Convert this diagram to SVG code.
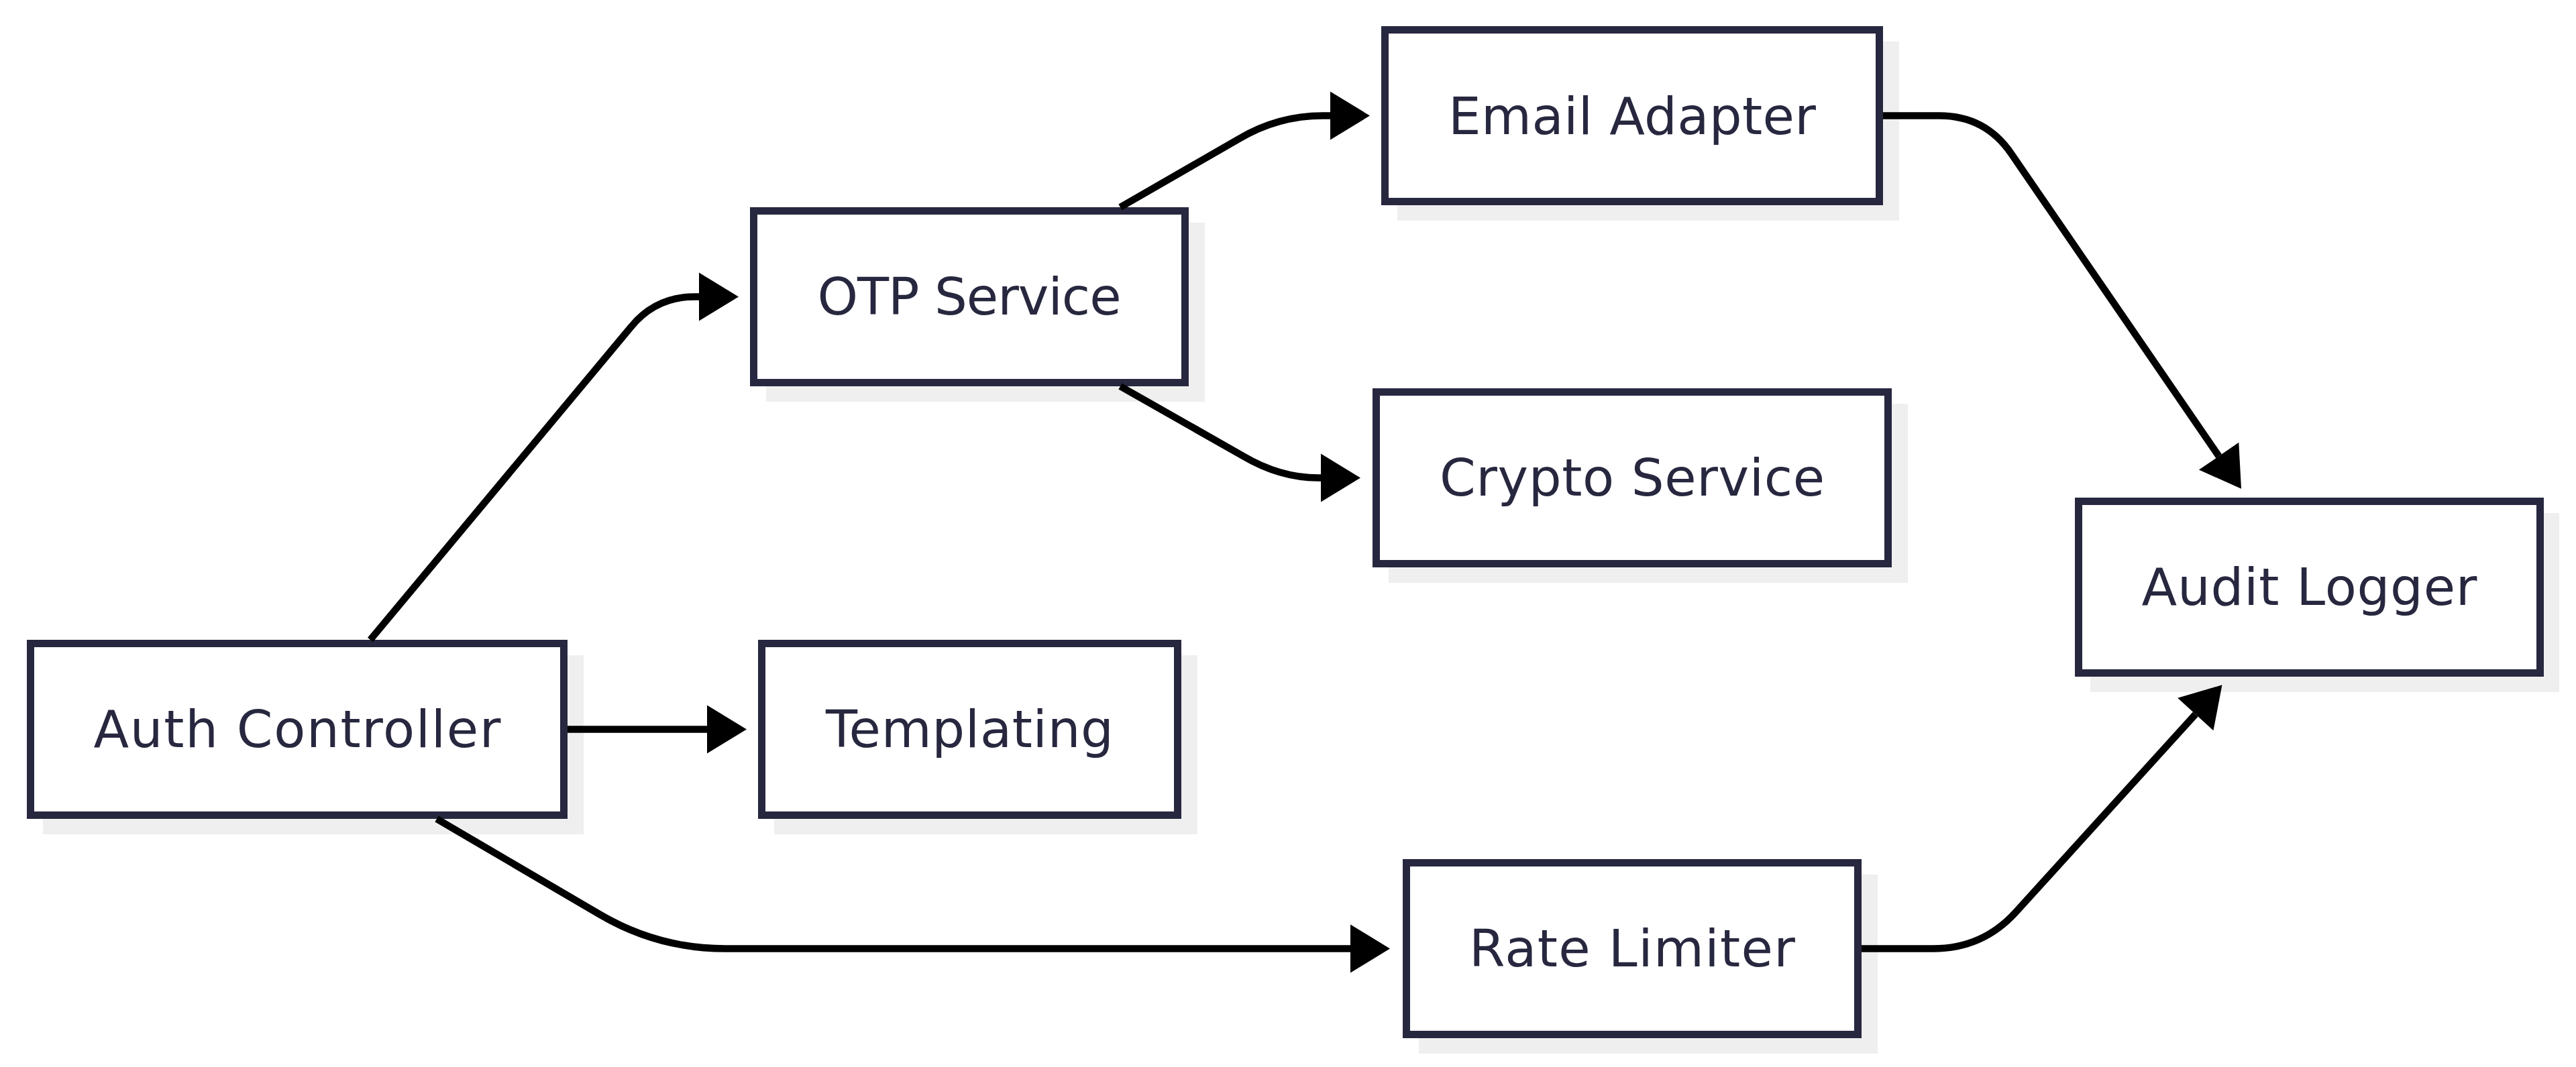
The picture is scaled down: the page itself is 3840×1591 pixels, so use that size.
<svg xmlns="http://www.w3.org/2000/svg" width="3840" height="1591" viewBox="0 0 3840 1591">
<style>
.shadow{fill:#efefef;}
.box{fill:#ffffff;stroke:#27273f;stroke-width:11;}
.label{font-family:"DejaVu Sans","Noto Sans",sans-serif;font-size:77px;fill:#27273f;text-anchor:middle;}
.edge{fill:none;stroke:#000000;stroke-width:10.5;stroke-linejoin:round;}
</style>
<defs>
<marker id="arrow" markerUnits="userSpaceOnUse" viewBox="0 0 59 72" markerWidth="59" markerHeight="72" refX="0" refY="36" orient="auto" overflow="visible">
<path d="M0,0 L59,36 L0,72 z" fill="#000000"/>
</marker>
</defs>
<rect width="3840" height="1591" fill="#ffffff"/>
<g id="node-auth-controller">
<rect class="shadow" x="64" y="977" width="806" height="267"/>
<rect class="box" x="45.5" y="959.5" width="795" height="256"/>
<text class="label" x="443" y="1114" textLength="607" lengthAdjust="spacing">Auth Controller</text>
</g>
<g id="node-templating">
<rect class="shadow" x="1154" y="977" width="631" height="267"/>
<rect class="box" x="1135.5" y="959.5" width="620" height="256"/>
<text class="label" x="1445.5" y="1114" textLength="429" lengthAdjust="spacing">Templating</text>
</g>
<g id="node-otp-service">
<rect class="shadow" x="1142" y="332" width="654" height="267"/>
<rect class="box" x="1123.5" y="314.5" width="643" height="256"/>
<text class="label" x="1445" y="469" textLength="453" lengthAdjust="spacing">OTP Service</text>
</g>
<g id="node-email-adapter">
<rect class="shadow" x="2083" y="62" width="748" height="267"/>
<rect class="box" x="2064.5" y="44.5" width="737" height="256"/>
<text class="label" x="2433" y="199.5" textLength="548" lengthAdjust="spacing">Email Adapter</text>
</g>
<g id="node-crypto-service">
<rect class="shadow" x="2070" y="602" width="774" height="267"/>
<rect class="box" x="2051.5" y="584.5" width="763" height="256"/>
<text class="label" x="2433" y="739" textLength="574" lengthAdjust="spacing">Crypto Service</text>
</g>
<g id="node-rate-limiter">
<rect class="shadow" x="2115" y="1304" width="684" height="267"/>
<rect class="box" x="2096.5" y="1286.5" width="673" height="256"/>
<text class="label" x="2433" y="1441" textLength="486" lengthAdjust="spacing">Rate Limiter</text>
</g>
<g id="node-audit-logger">
<rect class="shadow" x="3116" y="765" width="699" height="267"/>
<rect class="box" x="3098.5" y="747.5" width="688" height="256"/>
<text class="label" x="3442.5" y="902" textLength="500" lengthAdjust="spacing">Audit Logger</text>
</g>
<g id="connectors">
<path class="edge" marker-end="url(#arrow)" d="M552,954 L941,487 Q977.7,442.5 1035,442.5 L1042,442.5"/>
<path class="edge" marker-end="url(#arrow)" d="M1670,309 L1847,207 Q1905,172.5 1972,172.5 L1983,172.5"/>
<path class="edge" marker-end="url(#arrow)" d="M1670,576 L1853,680 Q1908,712.5 1965,712.5 L1969,712.5"/>
<path class="edge" marker-end="url(#arrow)" d="M846,1087.5 L1054,1087.5"/>
<path class="edge" marker-end="url(#arrow)" d="M651,1221 L894.7,1363.9 Q981,1414.5 1081,1414.5 L2013,1414.5"/>
<path class="edge" marker-end="url(#arrow)" d="M2807,172.5 L2891,172.5 Q2959.4,172.5 2998,228.9 L3307.6,680.2"/>
<path class="edge" marker-end="url(#arrow)" d="M2775,1414.5 L2882,1414.5 Q2955.5,1414.5 3005,1360 L3272.8,1065"/>
</g>
</svg>
